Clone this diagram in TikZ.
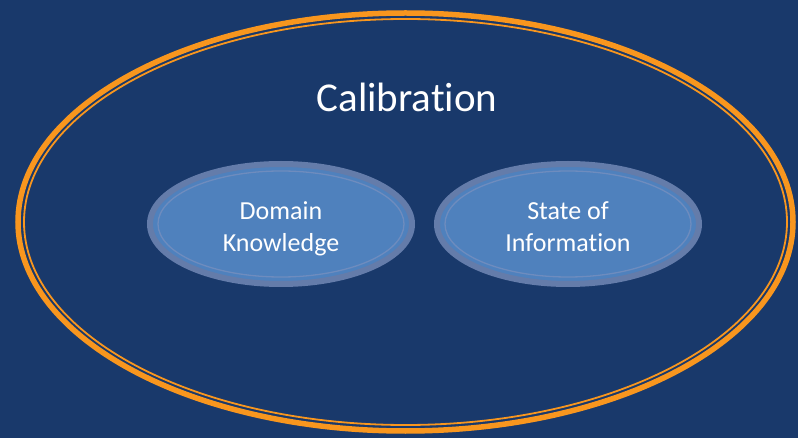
\documentclass[tikz,border=0pt]{standalone}
\usepackage{fontspec}
\setmainfont{Carlito}[Ligatures=NoCommon]
\usepackage{tikz}
\usetikzlibrary{shapes.geometric}
\definecolor{slidebg}{RGB}{25,57,107}
\definecolor{ringorange}{RGB}{248,150,30}
\definecolor{blobfill}{RGB}{79,129,189}
\definecolor{blobedge}{RGB}{100,124,170}
\definecolor{blobline}{RGB}{110,140,190}

\begin{document}
\begin{tikzpicture}[x=1pt,y=-1pt, every node/.style={inner sep=0pt}]
				\tikzstyle{ring}=[ellipse,draw=ringorange]
				\tikzstyle{outer ring}=[ring,line width=5.5pt,minimum width=775pt,minimum height=418pt]
				\tikzstyle{inner ring}=[ring,line width=1.8pt,minimum width=763pt,minimum height=406pt]
				\tikzstyle{blob}=[ellipse,fill=blobfill,draw=blobedge,line width=6pt,minimum width=262pt,minimum height=120pt]
				\tikzstyle{blob line}=[ellipse,draw=blobline,line width=1.3pt,minimum width=246pt,minimum height=106pt]
				\tikzstyle{annot} = [text=white,align=center,anchor=base,font=\fontsize{26}{32}\selectfont]
				
				% Background of the slide
				\fill[slidebg] (0,0) rectangle (798,438);
				\useasboundingbox (0,0) rectangle (798,438);
				
				% Draw the calibration ring
				\node[outer ring] (calib) at (405.5,222) {};
				\node[inner ring] (calib-in) at (calib.center) {};
				\node[text=white,anchor=base,font=\fontsize{41}{48}\selectfont] (title) at (407,112) {Calibration};
				
				% Draw the two inner ellipses
				\foreach \name / \x in {domain/281,state/568}
				{
				\node[blob] (\name) at (\x,224) {};
				\node[blob line] (\name-in) at (\name.center) {};
				}
				
				% Annotate the ellipses (base = last line)
				\node[annot] (domain-txt) at ([yshift=-28pt]domain.center) {Domain\\Knowledge};
				\node[annot] (state-txt) at ([yshift=-28pt]state.center) {State of\\Information};
				
			\end{tikzpicture}
\end{document}
